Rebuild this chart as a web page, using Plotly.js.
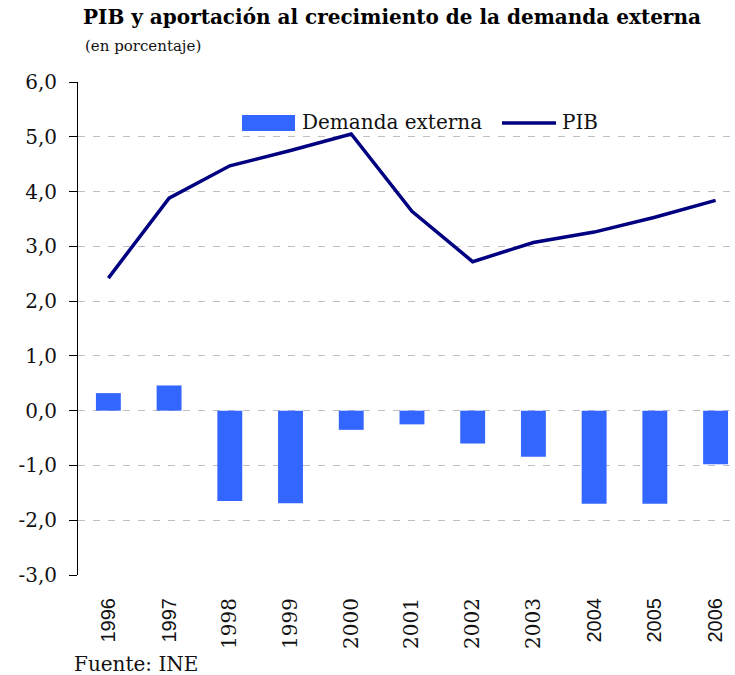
<!DOCTYPE html>
<html>
<head>
<meta charset="utf-8">
<script src="https://cdn.plot.ly/plotly-3.0.1.min.js"></script>
<style>html,body{margin:0;padding:0;background:#fff;}#chart{width:735px;height:675px;}</style>
</head>
<body>
<div id="chart"></div>
<script>
const years = ["1996","1997","1998","1999","2000","2001","2002","2003","2004","2005","2006"];
const demandaExterna = [0.32, 0.46, -1.65, -1.69, -0.35, -0.25, -0.60, -0.84, -1.70, -1.70, -0.98];
const pib = [2.42, 3.88, 4.47, 4.75, 5.05, 3.64, 2.72, 3.07, 3.26, 3.53, 3.84];
const yTickVals = [-3, -2, -1, 0, 1, 2, 3, 4, 5, 6];
const yTickText = ["-3,0", "-2,0", "-1,0", "0,0", "1,0", "2,0", "3,0", "4,0", "5,0", "6,0"];
const serifYears = ["1998","1999","2000","2001","2002","2003"];

const serif = "'DejaVu Serif', serif";
const sans = "'Liberation Sans', Arial, sans-serif";

const xTickText = years.map(y => serifYears.includes(y)
  ? '<span style="font-family:\'DejaVu Serif\', serif">' + y + '</span>' : y);

const traces = [
  {
    type: 'bar', name: 'Demanda externa', x: years, y: demandaExterna,
    marker: {color: '#3366FF'}, width: 0.41, showlegend: false, hoverinfo: 'x+y'
  },
  {
    type: 'scatter', mode: 'lines', name: 'PIB', x: years, y: pib,
    line: {color: '#000080', width: 3.5}, showlegend: false, hoverinfo: 'x+y'
  }
];

const layout = {
  width: 735, height: 675,
  margin: {l: 78, r: 0, t: 82, b: 100},
  paper_bgcolor: '#fff', plot_bgcolor: '#fff',
  showlegend: false,
  title: {
    text: '<b>PIB y aportación al crecimiento de la demanda externa</b>',
    font: {family: serif, size: 20, color: '#000'},
    xref: 'container', yref: 'container', x: 83/735, xanchor: 'left', y: 1 - 10/675, yanchor: 'top'
  },
  xaxis: {
    type: 'category', range: [-0.5, 10.32],
    tickmode: 'array', tickvals: years, ticktext: xTickText,
    tickangle: -90, ticks: '', showline: false, showgrid: false, zeroline: false,
    ticklabelstandoff: 18,
    tickfont: {family: sans, size: 20, color: '#111'}
  },
  yaxis: {
    range: [-3, 6], tickmode: 'array', tickvals: yTickVals, ticktext: yTickText,
    ticks: 'outside', ticklen: 8, tickcolor: '#000', tickwidth: 1,
    showline: true, linecolor: '#000', linewidth: 1,
    showgrid: true, gridcolor: '#c0c0c0', gridwidth: 1, griddash: '7px,8px',
    zeroline: false, ticklabelstandoff: 8,
    tickfont: {family: serif, size: 20, color: '#111'}
  },
  shapes: [
    {type: 'rect', xref: 'paper', yref: 'paper', layer: 'between',
     x0: (232-78)/657, x1: (607-78)/657, y0: 1 - (140-82)/493, y1: 1 - (104-82)/493,
     fillcolor: '#fff', line: {width: 0}},
    {type: 'rect', xref: 'paper', yref: 'paper', layer: 'above',
     x0: (242-78)/657, x1: (295-78)/657, y0: 1 - (131-82)/493, y1: 1 - (115-82)/493,
     fillcolor: '#3366FF', line: {width: 0}},
    {type: 'line', xref: 'paper', yref: 'paper', layer: 'above',
     x0: (502-78)/657, x1: (556-78)/657, y0: 1 - (123-82)/493, y1: 1 - (123-82)/493,
     line: {color: '#000080', width: 3.5}}
  ],
  annotations: [
    {text: '(en porcentaje)', xref: 'paper', yref: 'paper', x: (83-78)/657, y: 1 + (82-46)/493,
     xanchor: 'left', yanchor: 'middle', showarrow: false,
     font: {family: serif, size: 15, color: '#111'}},
    {text: 'Demanda externa', xref: 'paper', yref: 'paper', x: (300-78)/657, y: 1 - (122-82)/493,
     xanchor: 'left', yanchor: 'middle', showarrow: false,
     font: {family: serif, size: 20, color: '#111'}},
    {text: 'PIB', xref: 'paper', yref: 'paper', x: (560-78)/657, y: 1 - (122-82)/493,
     xanchor: 'left', yanchor: 'middle', showarrow: false,
     font: {family: serif, size: 20, color: '#111'}},
    {text: 'Fuente: INE', xref: 'paper', yref: 'paper', x: (72-78)/657, y: -(664-575)/493,
     xanchor: 'left', yanchor: 'middle', showarrow: false,
     font: {family: serif, size: 20, color: '#111'}}
  ]
};

Plotly.newPlot('chart', traces, layout, {displayModeBar: false, staticPlot: true});
</script>
</body>
</html>
